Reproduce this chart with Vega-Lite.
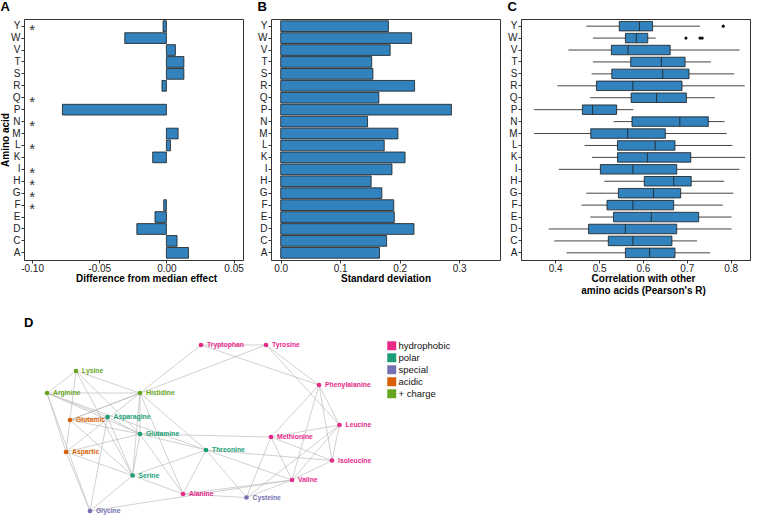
{
  "$schema": "https://vega.github.io/schema/vega-lite/v6.json",
  "padding": {"left": 0, "top": 0, "right": 0, "bottom": 0},
  "spacing": 21,
  "config": {
    "font": "Liberation Sans",
    "view": {"stroke": "#333", "strokeWidth": 1},
    "axis": {"grid": false, "domain": false, "tickColor": "#333", "tickSize": 3, "labelColor": "#222", "labelFontSize": 10, "labelPadding": 1, "titleFontSize": 10, "titleFontWeight": "bold", "titleColor": "#000"},
    "axisX": {"labelPadding": 0, "titlePadding": 0}
  },
  "datasets": {
    "diff": [
      {"aa": "Y", "v": -0.0025}, {"aa": "W", "v": -0.031}, {"aa": "V", "v": 0.0067}, {"aa": "T", "v": 0.013},
      {"aa": "S", "v": 0.013}, {"aa": "R", "v": -0.0033}, {"aa": "P", "v": -0.0774}, {"aa": "M", "v": 0.0087},
      {"aa": "L", "v": 0.003}, {"aa": "K", "v": -0.0102}, {"aa": "F", "v": -0.002}, {"aa": "E", "v": -0.0085},
      {"aa": "D", "v": -0.022}, {"aa": "C", "v": 0.0079}, {"aa": "A", "v": 0.0164}
    ],
    "sig": [
      {"aa": "Y", "s": "*"}, {"aa": "Q", "s": "*"}, {"aa": "N", "s": "*"}, {"aa": "L", "s": "*"},
      {"aa": "I", "s": "*"}, {"aa": "H", "s": "*"}, {"aa": "G", "s": "*"}, {"aa": "F", "s": "*"}
    ],
    "sd": [
      {"aa": "Y", "v": 0.181}, {"aa": "W", "v": 0.220}, {"aa": "V", "v": 0.184}, {"aa": "T", "v": 0.153},
      {"aa": "S", "v": 0.155}, {"aa": "R", "v": 0.225}, {"aa": "Q", "v": 0.165}, {"aa": "P", "v": 0.287},
      {"aa": "N", "v": 0.146}, {"aa": "M", "v": 0.197}, {"aa": "L", "v": 0.174}, {"aa": "K", "v": 0.209},
      {"aa": "I", "v": 0.187}, {"aa": "H", "v": 0.152}, {"aa": "G", "v": 0.170}, {"aa": "F", "v": 0.190},
      {"aa": "E", "v": 0.191}, {"aa": "D", "v": 0.224}, {"aa": "C", "v": 0.178}, {"aa": "A", "v": 0.166}
    ],
    "box": [
      {"aa": "Y", "lo": 0.471, "q1": 0.546, "med": 0.592, "q3": 0.622, "hi": 0.730},
      {"aa": "W", "lo": 0.486, "q1": 0.560, "med": 0.585, "q3": 0.611, "hi": 0.629},
      {"aa": "V", "lo": 0.430, "q1": 0.528, "med": 0.566, "q3": 0.662, "hi": 0.820},
      {"aa": "T", "lo": 0.486, "q1": 0.572, "med": 0.642, "q3": 0.696, "hi": 0.755},
      {"aa": "S", "lo": 0.483, "q1": 0.529, "med": 0.645, "q3": 0.705, "hi": 0.808},
      {"aa": "R", "lo": 0.405, "q1": 0.494, "med": 0.577, "q3": 0.689, "hi": 0.832},
      {"aa": "Q", "lo": 0.480, "q1": 0.573, "med": 0.631, "q3": 0.699, "hi": 0.764},
      {"aa": "P", "lo": 0.352, "q1": 0.462, "med": 0.485, "q3": 0.540, "hi": 0.578},
      {"aa": "N", "lo": 0.533, "q1": 0.575, "med": 0.684, "q3": 0.749, "hi": 0.786},
      {"aa": "M", "lo": 0.352, "q1": 0.481, "med": 0.565, "q3": 0.651, "hi": 0.791},
      {"aa": "L", "lo": 0.467, "q1": 0.542, "med": 0.628, "q3": 0.673, "hi": 0.804},
      {"aa": "K", "lo": 0.484, "q1": 0.542, "med": 0.610, "q3": 0.709, "hi": 0.833},
      {"aa": "I", "lo": 0.408, "q1": 0.503, "med": 0.577, "q3": 0.677, "hi": 0.820},
      {"aa": "H", "lo": 0.512, "q1": 0.603, "med": 0.670, "q3": 0.710, "hi": 0.785},
      {"aa": "G", "lo": 0.471, "q1": 0.544, "med": 0.624, "q3": 0.686, "hi": 0.806},
      {"aa": "F", "lo": 0.460, "q1": 0.518, "med": 0.577, "q3": 0.670, "hi": 0.782},
      {"aa": "E", "lo": 0.480, "q1": 0.533, "med": 0.619, "q3": 0.727, "hi": 0.802},
      {"aa": "D", "lo": 0.385, "q1": 0.476, "med": 0.560, "q3": 0.677, "hi": 0.802},
      {"aa": "C", "lo": 0.398, "q1": 0.521, "med": 0.577, "q3": 0.666, "hi": 0.723},
      {"aa": "A", "lo": 0.426, "q1": 0.560, "med": 0.615, "q3": 0.673, "hi": 0.753}
    ],
    "outliers": [
      {"aa": "Y", "v": 0.783}, {"aa": "W", "v": 0.698}, {"aa": "W", "v": 0.730}, {"aa": "W", "v": 0.735}
    ],
    "nodes": [
      {"name": "Lysine", "x": 76, "y": 370, "group": "+ charge"},
      {"name": "Arginine", "x": 47, "y": 392, "group": "+ charge"},
      {"name": "Histidine", "x": 140, "y": 392, "group": "+ charge"},
      {"name": "Glutamic", "x": 70, "y": 419, "group": "acidic"},
      {"name": "Asparagine", "x": 107.5, "y": 416, "group": "polar"},
      {"name": "Glutamine", "x": 140, "y": 433, "group": "polar"},
      {"name": "Aspartic", "x": 66, "y": 451, "group": "acidic"},
      {"name": "Serine", "x": 132.5, "y": 474.5, "group": "polar"},
      {"name": "Alanine", "x": 183, "y": 493, "group": "hydrophobic"},
      {"name": "Glycine", "x": 90, "y": 510, "group": "special"},
      {"name": "Tryptophan", "x": 201, "y": 344, "group": "hydrophobic"},
      {"name": "Tyrosine", "x": 266, "y": 344, "group": "hydrophobic"},
      {"name": "Phenylalanine", "x": 319, "y": 384, "group": "hydrophobic"},
      {"name": "Leucine", "x": 339.5, "y": 424, "group": "hydrophobic"},
      {"name": "Methionine", "x": 271, "y": 436, "group": "hydrophobic"},
      {"name": "Threonine", "x": 206, "y": 449, "group": "polar"},
      {"name": "Isoleucine", "x": 332, "y": 459.5, "group": "hydrophobic"},
      {"name": "Valine", "x": 292, "y": 479, "group": "hydrophobic"},
      {"name": "Cysteine", "x": 246.5, "y": 496.5, "group": "special"}
    ],
    "edges": [
      {"s": "Lysine", "t": "Arginine"}, {"s": "Lysine", "t": "Histidine"}, {"s": "Lysine", "t": "Aspartic"},
      {"s": "Lysine", "t": "Glutamine"}, {"s": "Lysine", "t": "Serine"},
      {"s": "Arginine", "t": "Histidine"}, {"s": "Arginine", "t": "Asparagine"}, {"s": "Arginine", "t": "Glutamine"},
      {"s": "Arginine", "t": "Aspartic"}, {"s": "Arginine", "t": "Glycine"}, {"s": "Arginine", "t": "Threonine"},
      {"s": "Histidine", "t": "Glutamic"}, {"s": "Histidine", "t": "Aspartic"}, {"s": "Histidine", "t": "Glutamine"},
      {"s": "Histidine", "t": "Serine"}, {"s": "Histidine", "t": "Alanine"}, {"s": "Histidine", "t": "Threonine"},
      {"s": "Histidine", "t": "Tryptophan"}, {"s": "Tyrosine", "t": "Glutamic"},
      {"s": "Glutamic", "t": "Asparagine"}, {"s": "Glutamic", "t": "Glutamine"}, {"s": "Glutamic", "t": "Serine"},
      {"s": "Asparagine", "t": "Glutamine"}, {"s": "Asparagine", "t": "Serine"}, {"s": "Asparagine", "t": "Glycine"},
      {"s": "Aspartic", "t": "Glutamine"}, {"s": "Aspartic", "t": "Serine"}, {"s": "Aspartic", "t": "Glycine"},
      {"s": "Glutamine", "t": "Serine"}, {"s": "Glutamine", "t": "Alanine"}, {"s": "Glutamine", "t": "Threonine"},
      {"s": "Glutamine", "t": "Methionine"},
      {"s": "Serine", "t": "Threonine"}, {"s": "Serine", "t": "Alanine"}, {"s": "Glycine", "t": "Serine"},
      {"s": "Glycine", "t": "Valine"},
      {"s": "Threonine", "t": "Alanine"}, {"s": "Threonine", "t": "Cysteine"}, {"s": "Threonine", "t": "Valine"},
      {"s": "Threonine", "t": "Isoleucine"},
      {"s": "Tryptophan", "t": "Tyrosine"}, {"s": "Tryptophan", "t": "Phenylalanine"},
      {"s": "Tyrosine", "t": "Phenylalanine"}, {"s": "Tyrosine", "t": "Leucine"},
      {"s": "Phenylalanine", "t": "Leucine"}, {"s": "Phenylalanine", "t": "Isoleucine"}, {"s": "Phenylalanine", "t": "Valine"},
      {"s": "Phenylalanine", "t": "Methionine"},
      {"s": "Leucine", "t": "Methionine"}, {"s": "Leucine", "t": "Isoleucine"}, {"s": "Leucine", "t": "Valine"},
      {"s": "Leucine", "t": "Cysteine"},
      {"s": "Methionine", "t": "Isoleucine"}, {"s": "Methionine", "t": "Valine"}, {"s": "Methionine", "t": "Cysteine"},
      {"s": "Isoleucine", "t": "Valine"}, {"s": "Alanine", "t": "Valine"}, {"s": "Alanine", "t": "Cysteine"},
      {"s": "Valine", "t": "Cysteine"}
    ]
  },
  "vconcat": [
    {
      "bounds": "flush",
      "spacing": 28,
      "hconcat": [
        {
          "width": 219,
          "height": 241,
          "title": {"text": "A", "anchor": "start", "frame": "bounds", "fontSize": 13, "fontWeight": "bold", "offset": 5},
          "layer": [
            {
              "data": {"name": "diff"},
              "mark": {"type": "bar", "fill": "#3182bd", "stroke": "#1a1a1a", "strokeWidth": 0.8},
              "encoding": {
                "y": {"field": "aa", "type": "nominal",
                  "scale": {"domain": ["Y","W","V","T","S","R","Q","P","N","M","L","K","I","H","G","F","E","D","C","A"], "paddingInner": 0.1, "paddingOuter": 0.15},
                  "axis": {"title": "Amino acid", "titlePadding": 0}},
                "x": {"field": "v", "type": "quantitative",
                  "scale": {"domain": [-0.106, 0.057], "nice": false, "zero": false},
                  "axis": {"title": "Difference from median effect", "values": [-0.1, -0.05, 0, 0.05], "format": ".2f", "labelExpr": "replace(datum.label, '\u2212', '-')", "titleX": 122}},
                "x2": {"datum": 0}
              }
            },
            {
              "mark": {"type": "rule", "color": "#e41a1c", "strokeWidth": 1.2, "strokeDash": [2, 1]},
              "encoding": {"x": {"datum": 0}}
            },
            {
              "data": {"name": "sig"},
              "mark": {"type": "text", "fontSize": 15, "baseline": "alphabetic", "dy": 9, "color": "#333"},
              "encoding": {
                "y": {"field": "aa", "type": "nominal"},
                "x": {"datum": -0.1},
                "text": {"field": "s"}
              }
            }
          ]
        },
        {
          "bounds": "flush",
          "spacing": 21,
          "hconcat": [
            {
              "width": 229,
              "height": 241,
              "title": {"text": "B", "anchor": "start", "frame": "bounds", "fontSize": 13, "fontWeight": "bold", "offset": 5},
              "data": {"name": "sd"},
              "mark": {"type": "bar", "fill": "#3182bd", "stroke": "#1a1a1a", "strokeWidth": 0.8},
              "encoding": {
                "y": {"field": "aa", "type": "nominal",
                  "scale": {"domain": ["Y","W","V","T","S","R","Q","P","N","M","L","K","I","H","G","F","E","D","C","A"], "paddingInner": 0.1, "paddingOuter": 0.15},
                  "axis": {"title": null}},
                "x": {"field": "v", "type": "quantitative",
                  "scale": {"domain": [-0.0163, 0.3686], "nice": false, "zero": false},
                  "axis": {"title": "Standard deviation", "values": [0, 0.1, 0.2, 0.3], "format": ".1f"}},
                "x2": {"datum": 0}
              }
            },
            {
              "width": 229,
              "height": 241,
              "title": {"text": "C", "anchor": "start", "frame": "bounds", "fontSize": 13, "fontWeight": "bold", "offset": 5},
              "layer": [
                {
                  "data": {"name": "box"},
                  "mark": {"type": "rule", "color": "#444", "strokeWidth": 1},
                  "encoding": {
                    "y": {"field": "aa", "type": "nominal",
                      "scale": {"domain": ["Y","W","V","T","S","R","Q","P","N","M","L","K","I","H","G","F","E","D","C","A"], "paddingInner": 0.1, "paddingOuter": 0.15},
                      "axis": {"title": null}},
                    "x": {"field": "lo", "type": "quantitative",
                      "scale": {"domain": [0.322, 0.844], "nice": false, "zero": false},
                      "axis": {"title": ["Correlation with other", "amino acids (Pearson's R)"], "values": [0.4, 0.5, 0.6, 0.7, 0.8], "format": ".1f", "titleX": 122}},
                    "x2": {"field": "hi"}
                  }
                },
                {
                  "data": {"name": "box"},
                  "mark": {"type": "bar", "size": 9.5, "fill": "#3182bd", "stroke": "#1a1a1a", "strokeWidth": 0.8},
                  "encoding": {
                    "y": {"field": "aa", "type": "nominal"},
                    "x": {"field": "q1", "type": "quantitative"},
                    "x2": {"field": "q3"}
                  }
                },
                {
                  "data": {"name": "box"},
                  "mark": {"type": "tick", "size": 9.5, "thickness": 1.1, "color": "#1a1a1a", "orient": "vertical"},
                  "encoding": {
                    "y": {"field": "aa", "type": "nominal"},
                    "x": {"field": "med", "type": "quantitative"}
                  }
                },
                {
                  "data": {"name": "outliers"},
                  "mark": {"type": "circle", "size": 10, "color": "#111", "opacity": 1},
                  "encoding": {
                    "y": {"field": "aa", "type": "nominal"},
                    "x": {"field": "v", "type": "quantitative"}
                  }
                }
              ]
            }
          ]
        }
      ]
    },
    {
      "width": 440,
      "height": 181,
      "view": {"stroke": null},
      "title": {"text": "D", "anchor": "start", "frame": "group", "fontSize": 13, "fontWeight": "bold", "offset": 5},
      "layer": [
        {
          "data": {"name": "edges"},
          "transform": [
            {"lookup": "s", "from": {"data": {"name": "nodes"}, "key": "name", "fields": ["x", "y"]}, "as": ["sx", "sy"]},
            {"lookup": "t", "from": {"data": {"name": "nodes"}, "key": "name", "fields": ["x", "y"]}, "as": ["tx", "ty"]}
          ],
          "mark": {"type": "rule", "color": "#bdbdbd", "strokeWidth": 0.7},
          "encoding": {
            "x": {"field": "sx", "type": "quantitative", "scale": {"domain": [24, 464], "nice": false, "zero": false}, "axis": null},
            "y": {"field": "sy", "type": "quantitative", "scale": {"domain": [334, 515], "reverse": true, "nice": false, "zero": false}, "axis": null},
            "x2": {"field": "tx"},
            "y2": {"field": "ty"}
          }
        },
        {
          "data": {"name": "nodes"},
          "mark": {"type": "circle", "size": 22, "opacity": 1},
          "encoding": {
            "x": {"field": "x", "type": "quantitative"},
            "y": {"field": "y", "type": "quantitative"},
            "color": {"field": "group", "type": "nominal",
              "scale": {"domain": ["hydrophobic", "polar", "special", "acidic", "+ charge"], "range": ["#e7298a", "#1b9e77", "#7570b3", "#d95f02", "#66a61e"]},
              "legend": {"orient": "none", "legendX": 363, "legendY": 322, "title": null, "symbolType": "square", "symbolSize": 80, "symbolStrokeWidth": 0, "symbolOpacity": 1, "labelFontSize": 9.5, "labelColor": "#111", "rowPadding": 1, "labelOffset": 2, "padding": 0}}
          }
        },
        {
          "data": {"name": "nodes"},
          "mark": {"type": "text", "align": "left", "baseline": "middle", "dx": 6, "fontSize": 6.8, "fontWeight": "bold"},
          "encoding": {
            "x": {"field": "x", "type": "quantitative"},
            "y": {"field": "y", "type": "quantitative"},
            "text": {"field": "name"},
            "color": {"field": "group", "type": "nominal", "legend": null}
          }
        }
      ]
    }
  ]
}
